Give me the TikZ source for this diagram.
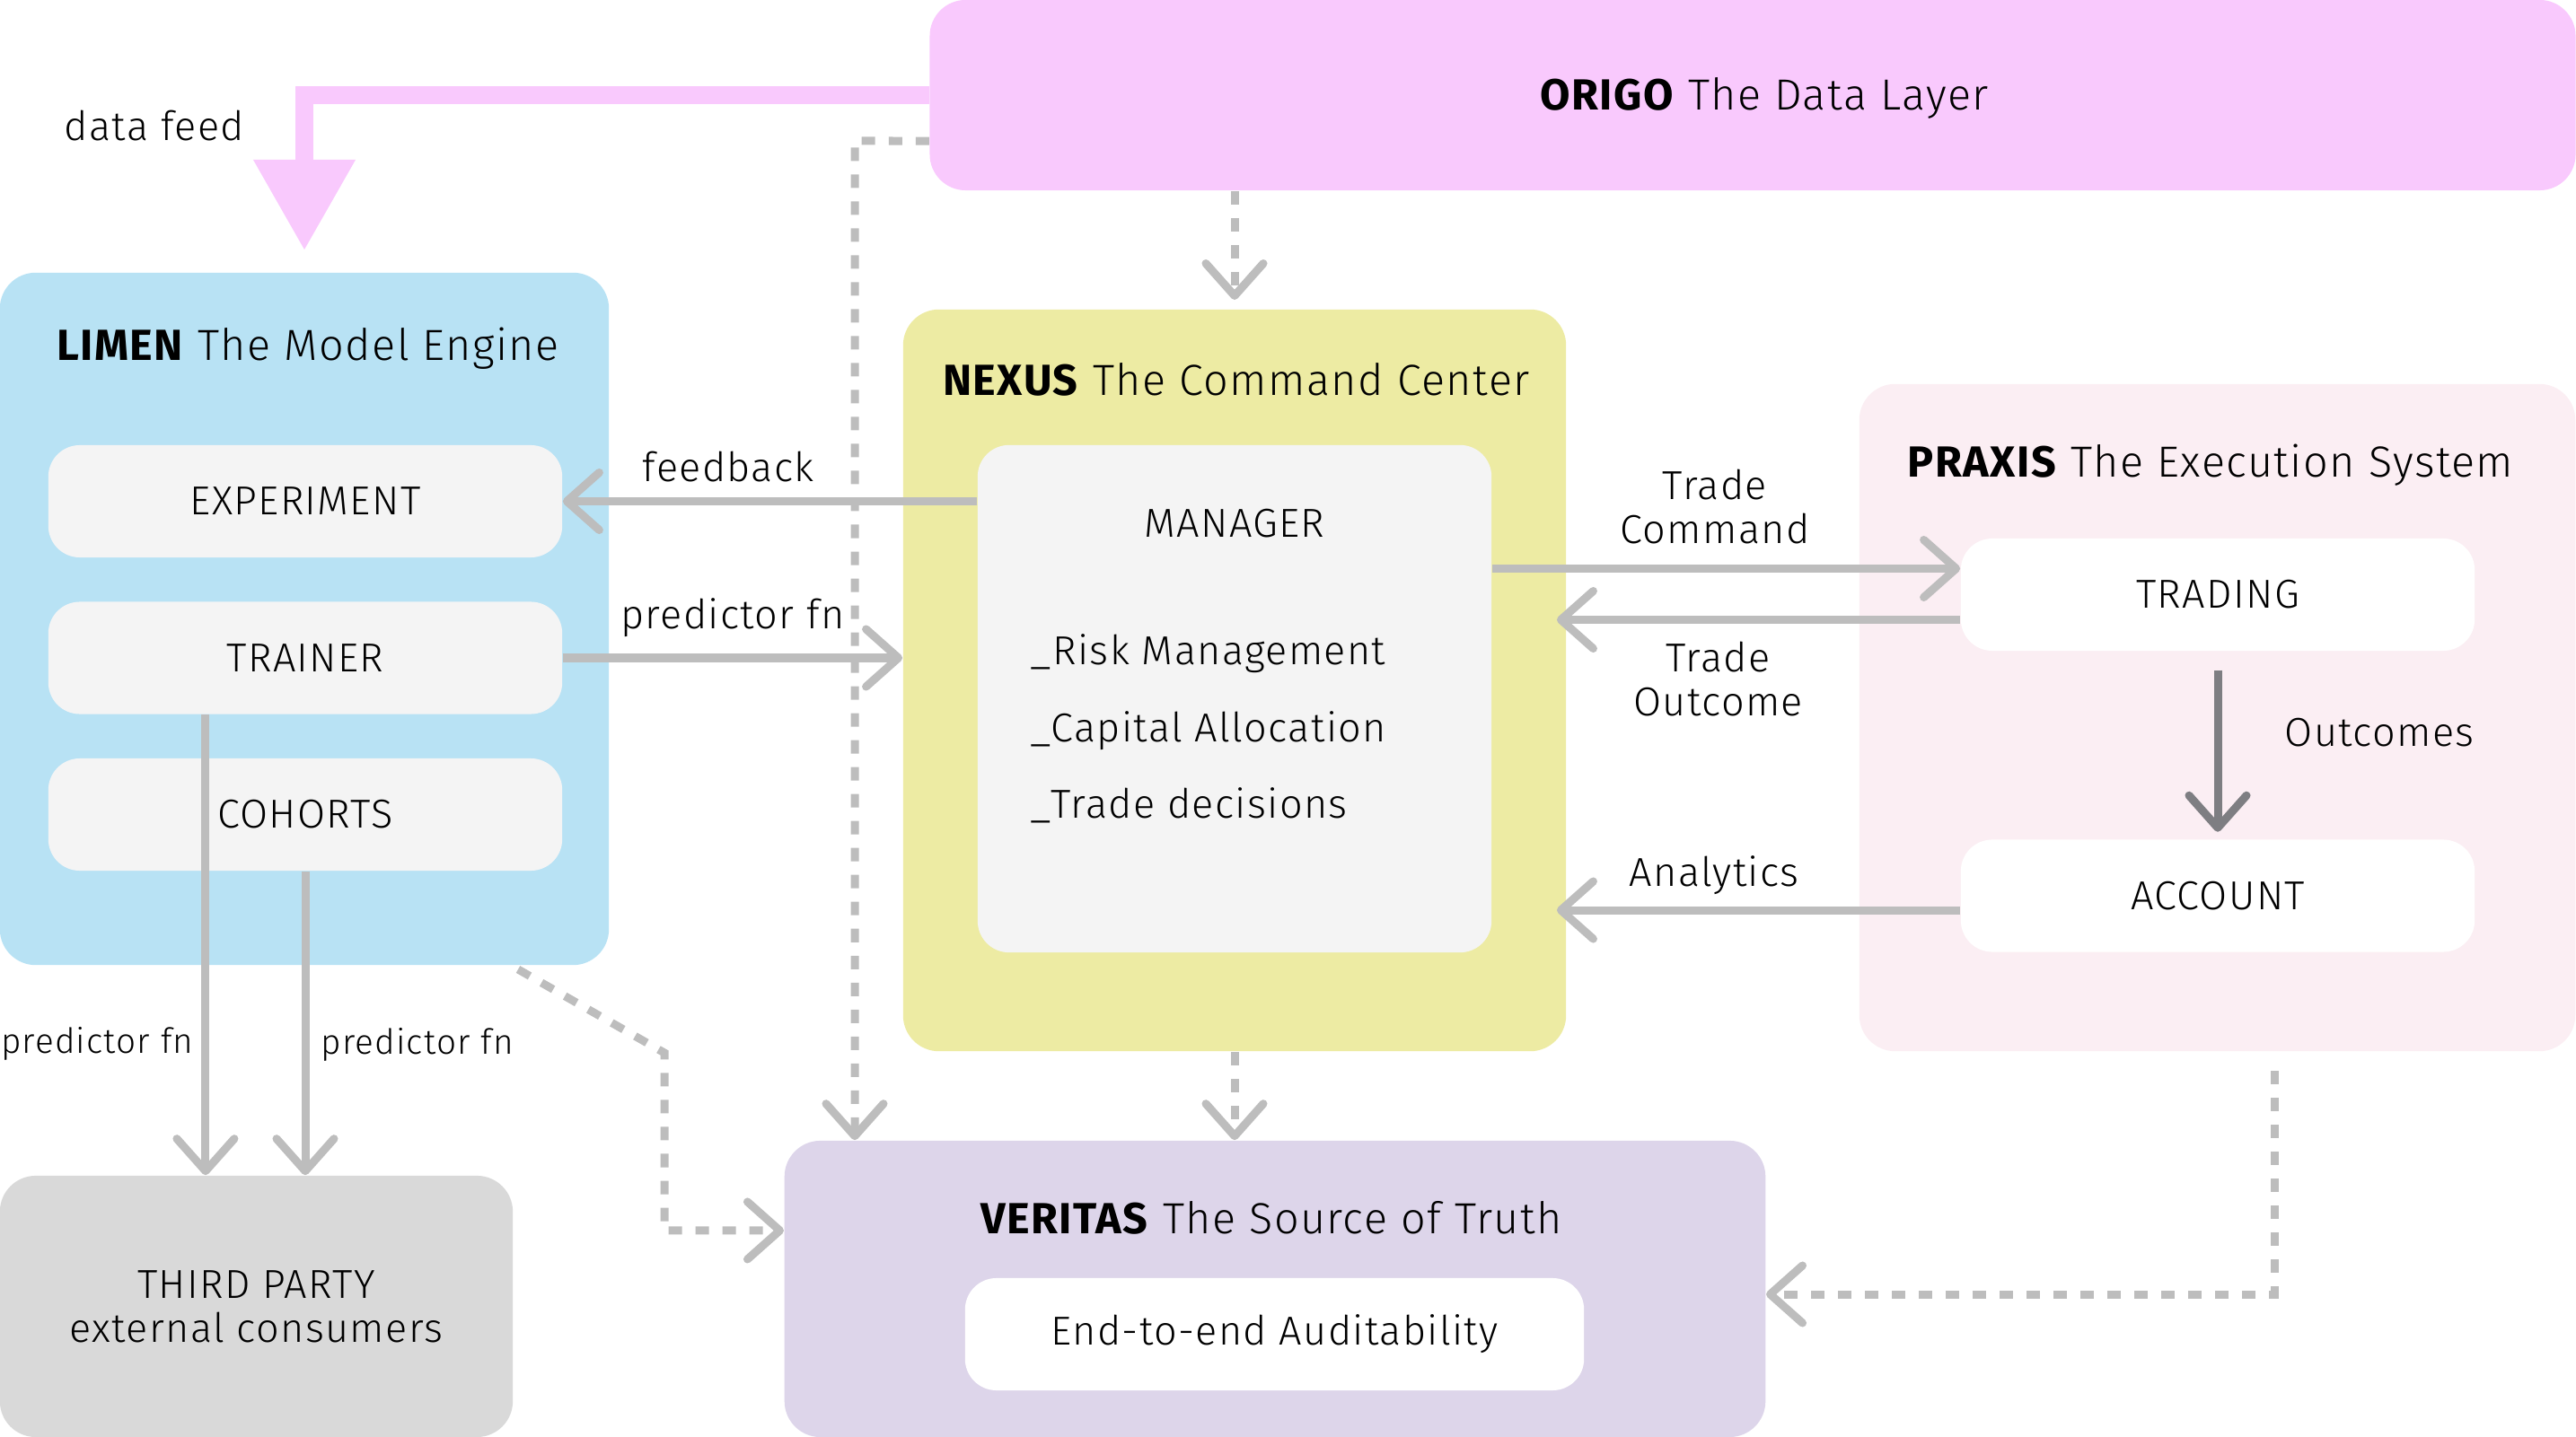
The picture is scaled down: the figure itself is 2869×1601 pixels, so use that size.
\documentclass[tikz,border=0pt]{standalone}
\usepackage{fontspec}
\setmainfont{Fira Sans}[LetterSpace=3, UprightFont=* Light, BoldFont=* Bold]
\usepackage{tikz}
\usetikzlibrary{arrows.meta, positioning, calc}
\definecolor{origopink}{HTML}{F9C9FD}
\definecolor{limenblue}{HTML}{B8E2F4}
\definecolor{nexusyellow}{HTML}{EDEBA3}
\definecolor{praxispink}{HTML}{FBEEF3}
\definecolor{veritaslilac}{HTML}{DDD5EA}
\definecolor{thirdgray}{HTML}{D9D9D9}
\definecolor{innergray}{HTML}{F4F4F4}
\definecolor{linegray}{HTML}{BDBDBD}
\definecolor{darkarrow}{HTML}{7E7E82}
\newcommand{\boxfont}{\fontsize{12.8}{14}\selectfont}
\newcommand{\headfont}{\fontsize{13.8}{16}\selectfont}
\newcommand{\notefont}{\fontsize{11}{13}\selectfont}
\tikzset{>={Straight Barb[length=0.36cm,width=0.64cm,round]}}
\tikzset{
  layer/.style={rounded corners=0.4cm, inner sep=0pt},
  unit/.style={rounded corners=0.35cm, minimum width=5.72cm, minimum height=1.25cm, inner sep=0pt, font=\boxfont},
  title/.style={anchor=base, inner sep=0pt, font=\headfont},
  lbl/.style={inner sep=0pt, font=\boxfont},
  flow/.style={draw=linegray, line width=0.09cm, ->},
  dashflow/.style={flow, dash pattern=on 0.15cm off 0.15cm},
  feed/.style={draw=origopink, line width=0.2cm, -{Triangle[length=1cm,width=1.14cm,line width=0pt]}},
}

\begin{document}
\begin{tikzpicture}[x=0.01cm, y=-0.01cm]
\useasboundingbox (0,0) rectangle (2869,1601);

% layers
\node[layer, fill=origopink, minimum width=18.32cm, minimum height=2.12cm] (origo) at (1952,106) {};
\node[title] (origoT) at (1965,123) {\textbf{ORIGO}\ The Data Layer};

\node[layer, fill=limenblue, minimum width=6.78cm, minimum height=7.71cm] (limen) at (339,689.5) {};
\node[title] (limenT) at (343,402) {\textbf{LIMEN}\ The Model Engine};
\node[unit, fill=innergray] (experiment) at (340,558.5) {EXPERIMENT};
\node[unit, fill=innergray, below=0.48cm of experiment] (trainer) {TRAINER};
\node[unit, fill=innergray, below=0.48cm of trainer] (cohorts) {COHORTS};

\node[layer, fill=nexusyellow, minimum width=7.38cm, minimum height=8.26cm] (nexus) at (1375,758) {};
\node[title] (nexusT) at (1377,441) {\textbf{NEXUS} The Command Center};
\node[unit, fill=innergray, minimum height=5.65cm] (manager) at (1375,778.5) {};
\node[lbl, anchor=base] (managerT) at (1375,599) {MANAGER};
\node[lbl, anchor=base west] (risk) at (1147,741) {\_Risk Management};
\node[lbl, anchor=base west] (capital) at (1147,827) {\_Capital Allocation};
\node[lbl, anchor=base west] (decide) at (1147,912) {\_Trade decisions};

\node[layer, fill=praxispink, minimum width=7.97cm, minimum height=7.43cm] (praxis) at (2469.5,799.5) {};
\node[title] (praxisT) at (2462,532) {\textbf{PRAXIS}\ The Execution System};
\node[unit, fill=white] (trading) at (2470,662.5) {TRADING};
\node[unit, fill=white] (account) at (2470,998) {ACCOUNT};

\node[layer, fill=veritaslilac, minimum width=10.92cm, minimum height=3.3cm] (veritas) at (1420,1436) {};
\node[title] (veritasT) at (1416,1374) {\textbf{VERITAS}\ The Source of Truth};
\node[unit, fill=white, minimum width=6.89cm] (audit) at (1419.5,1486.5) {End-to-end Auditability};

\node[layer, fill=thirdgray, minimum width=5.71cm, minimum height=2.91cm, font=\boxfont, align=center] (third) at (285.5,1455.5) {THIRD PARTY\\external consumers};

% data feed
\draw[feed] (origo.west) -| node[pos=0.6, left=0.57cm, font=\boxfont, inner sep=0pt] (feedT) {data feed} ([yshift=0.25cm]limen.north);

% dashed links
\coordinate (origoL) at ([yshift=-0.51cm]origo.west);
\coordinate (bendL) at (952,157);
\draw[dashflow] (origoL) -- (bendL) -- (bendL |- veritas.north);
\draw[dashflow] (origo.south -| nexus.north) -- ([yshift=0.1cm]nexus.north);
\draw[dashflow] (nexus.south) -- (nexus.south |- veritas.north);
\coordinate (limenO) at (577,1080);
\coordinate (bendV) at (740,1173);
\draw[dashflow] (limenO) -- (bendV) |- ([yshift=0.65cm]veritas.west);
\coordinate (praxisO) at (2533,1193);
\draw[dashflow] (praxisO) |- ([yshift=-0.06cm]veritas.east);

% model engine links
\draw[flow] (manager.west |- experiment.east) -- node[lbl, pos=0.6, above=0.17cm] (fbT) {feedback} (experiment.east);
\draw[flow] (trainer.east) -- node[lbl, midway, above=0.19cm] (predT) {predictor fn} (nexus.west |- trainer.east);
\coordinate (trainO) at ([xshift=-1.11cm]trainer.south);
\draw[flow] (trainO) -- node[lbl, pos=0.715, left=0.09cm, font=\notefont] (predL) {predictor fn} (trainO |- third.north);
\draw[flow] (cohorts.south) -- node[lbl, pos=0.57, right=0.13cm, font=\notefont] (predR) {predictor fn} (cohorts.south |- third.north);

% execution links
\coordinate (cmdIn) at ([yshift=0.29cm]trading.west);
\draw[flow] (manager.east |- cmdIn) -- node[lbl, pos=0.476, above=0.23cm, align=center] (cmdT) {Trade\\Command} (cmdIn);
\coordinate (outFrom) at ([yshift=-0.28cm]trading.west);
\draw[flow] (outFrom) -- node[lbl, pos=0.6, below=0.2cm, align=center] (outT) {Trade\\Outcome} ($(nexus.east |- outFrom)+(-11,0)$);
\coordinate (anaFrom) at ([yshift=-0.16cm]account.west);
\draw[flow] (anaFrom) -- node[lbl, pos=0.61, above=0.13cm] (anaT) {Analytics} ($(nexus.east |- anaFrom)+(-11,0)$);
\draw[flow, draw=darkarrow, shorten <=0.21cm, shorten >=0.08cm] (trading.south) -- node[lbl, midway, right=0.7cm, yshift=0.14cm] (ocT) {Outcomes} (account.north);
\end{tikzpicture}
\end{document}
